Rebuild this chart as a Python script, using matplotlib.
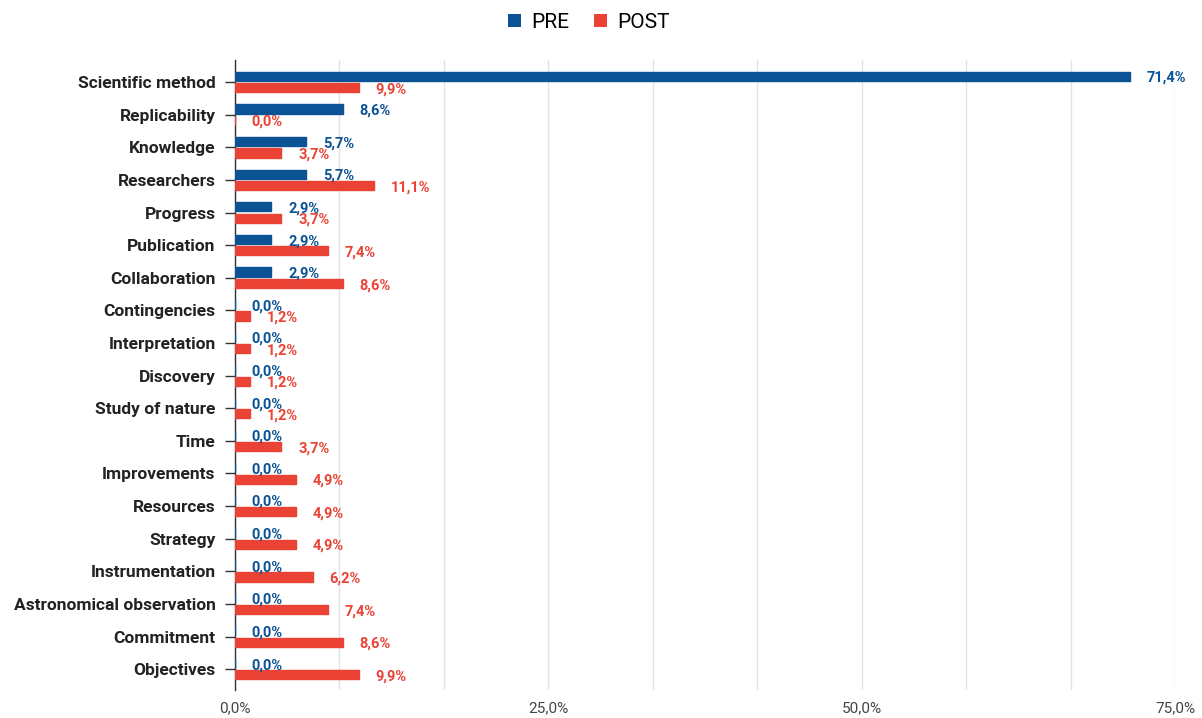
import matplotlib
matplotlib.use("Agg")
import matplotlib.pyplot as plt
from matplotlib.patches import Patch
from matplotlib.ticker import FixedLocator, FuncFormatter
import numpy as np

plt.rcParams['font.family'] = ['Roboto', 'DejaVu Sans']

categories = [
    "Scientific method", "Replicability", "Knowledge", "Researchers", "Progress",
    "Publication", "Collaboration", "Contingencies", "Interpretation", "Discovery",
    "Study of nature", "Time", "Improvements", "Resources", "Strategy",
    "Instrumentation", "Astronomical observation", "Commitment", "Objectives",
]
pre_values = [71.4, 8.6, 5.7, 5.7, 2.9, 2.9, 2.9, 0.0, 0.0, 0.0,
              0.0, 0.0, 0.0, 0.0, 0.0, 0.0, 0.0, 0.0, 0.0]
post_values = [9.9, 0.0, 3.7, 11.1, 3.7, 7.4, 8.6, 1.2, 1.2, 1.2,
               1.2, 3.7, 4.9, 4.9, 4.9, 6.2, 7.4, 8.6, 9.9]
series_names = ["PRE", "POST"]
x_tick_values = [0, 25, 50, 75]

PRE_COLOR = "#0b5394"
POST_COLOR = "#ea4335"

fig = plt.figure(figsize=(12.02, 7.18), dpi=100)
ax = fig.add_axes([0.1955, 0.039, 0.782, 0.8774])

y = np.arange(len(categories))
bar_h = 0.28
off = 0.175

def fmt_pct(v):
    return f"{v:.1f}".replace(".", ",") + "%"

for vals, color, dy in ((pre_values, PRE_COLOR, -off), (post_values, POST_COLOR, off)):
    bars = ax.barh(y + dy, vals, height=bar_h, color=color, edgecolor=color,
                   linewidth=1.0, zorder=3)
    for b in bars:
        b.set_joinstyle("round")
    for yi, v in zip(y + dy, vals):
        ax.annotate(fmt_pct(v), xy=(v, yi), xytext=(12, -1.2), textcoords="offset points",
                    ha="left", va="center", fontsize=10.5, fontweight="bold",
                    color=color, zorder=4)

ax.set_xlim(0, 75)
ax.set_ylim(len(categories) - 1 + 0.64, -0.675)

ax.xaxis.set_major_locator(FixedLocator(x_tick_values))
ax.xaxis.set_minor_locator(FixedLocator(np.arange(0, 75.01, 25 / 3)))
ax.xaxis.set_major_formatter(FuncFormatter(lambda v, p: fmt_pct(v)))
ax.grid(axis="x", which="both", color="#e3e3e3", linewidth=1, zorder=0)
ax.tick_params(axis="x", which="both", length=0, pad=8, labelsize=11, labelcolor="#444444")

ax.set_yticks(y)
ax.set_yticklabels(categories, fontsize=12.5, fontweight="bold", color="#222222")
ax.tick_params(axis="y", length=7, width=1, color="#333333", pad=7)

for s in ("top", "right", "bottom"):
    ax.spines[s].set_visible(False)
ax.spines["left"].set_color("#333333")
ax.spines["left"].set_linewidth(1)
ax.set_axisbelow(True)

handles = [Patch(facecolor=PRE_COLOR, label=series_names[0]),
           Patch(facecolor=POST_COLOR, label=series_names[1])]
fig.legend(handles=handles, loc="upper center", bbox_to_anchor=(0.49, 1.008), ncol=2,
           frameon=False, fontsize=15, handlelength=0.6, handleheight=0.6,
           handletextpad=0.5, columnspacing=1.2)

fig.savefig("out.png", dpi=100)
